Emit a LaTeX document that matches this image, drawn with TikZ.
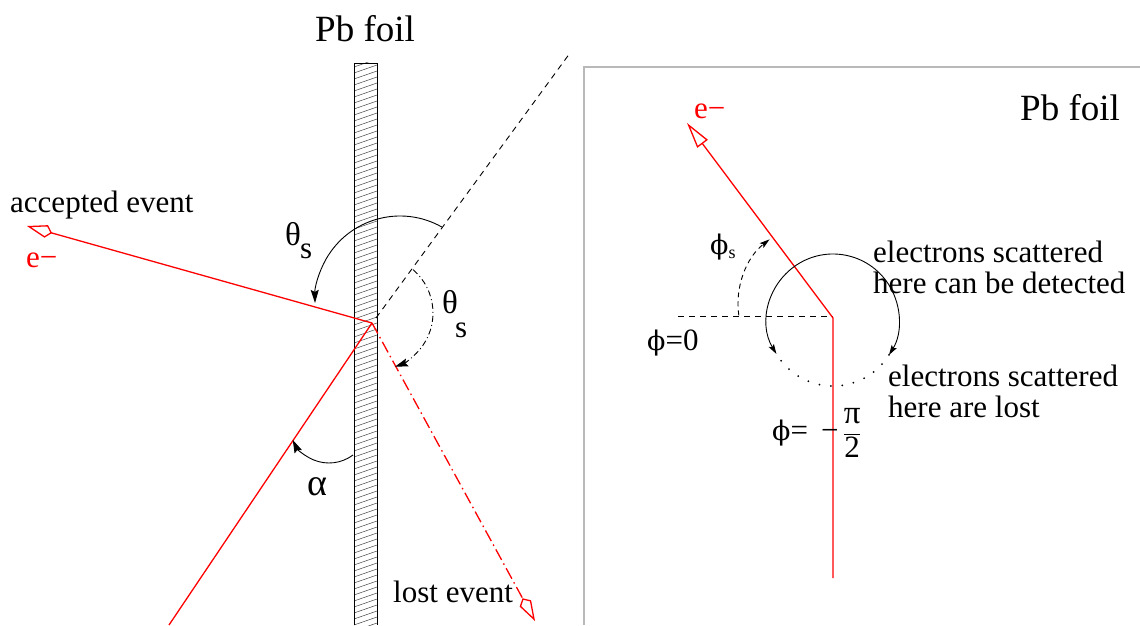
\documentclass[tikz,border=0pt]{standalone}
\usepackage{fontspec}
\setmainfont{Liberation Serif}
\newfontfamily\phifont{DejaVu Serif}
\newcommand{\myphi}{{\phifont\fontsize{27}{27}\selectfont ϕ}}
\usetikzlibrary{arrows.meta}
\begin{document}
\begin{tikzpicture}[x=1pt,y=1pt,
  txt/.style={inner sep=0pt, anchor=base west, font=\fontsize{31}{31}\selectfont},
  bigtxt/.style={inner sep=0pt, anchor=base west, font=\fontsize{37}{37}\selectfont},
  ray/.style={red, line width=1.3pt},
  thinline/.style={black, line width=0.9pt},
  bigtip/.style={-{Stealth[length=13pt,width=8pt,inset=2pt]}},
  kitetip/.style={-{Kite[open,length=26pt,width=13pt,inset=6pt]}},
  tritip/.style={-{Triangle[open,length=26pt,width=13pt]}},
  frameline/.style={gray!55, line width=1.3pt}
]
\useasboundingbox (0,0) rectangle (1140,625);

% ---------------- left panel ----------------
% foil
\begin{scope}
  \clip (354,0) rectangle (377,562);
  \foreach \yy in {-12,-6,...,570} \draw[black!75, line width=0.5pt] (354,\yy) -- (377,\yy+8);
\end{scope}
\draw[black, line width=0.9pt] (354,0) -- (354,562) -- (377,562) -- (377,0);
\node[bigtxt] (foilL) at (315,583) {Pb foil};

\coordinate (I) at (372,302);
\coordinate (S) at (169,0);
\coordinate (Acc) at (27,399);
\coordinate (Lost) at (535,4);
\coordinate (D0) at (376,307);
\coordinate (D1) at (570,572);

\draw[thinline, dash pattern=on 6pt off 5pt] (D0) -- (D1);
\draw[ray] (S) -- (I);
\draw[ray, kitetip] (I) -- (Acc);
\draw[ray, kitetip, dash pattern=on 12pt off 4pt on 1.5pt off 4pt] (I) -- (Lost);

% angle arcs
\coordinate (Q1) at (400,324);
\coordinate (Q2) at (376,312);
\coordinate (Q3) at (329,202);
\draw[thinline, bigtip] ([shift={(60.4:85)}]Q1) arc[start angle=60.4, end angle=181.3, radius=85];
\draw[thinline, bigtip, dash pattern=on 6pt off 3pt on 1pt off 3pt] ([shift={(49.3:57)}]Q2) arc[start angle=49.3, end angle=-70.6, radius=57];
\draw[thinline, bigtip] ([shift={(-53:40)}]Q3) arc[start angle=-53, end angle=-155, radius=40];

% labels
\node[txt] (acc) at (10,413) {accepted event};
\node[txt, text=red] (eL) at (26,358) {e−};
\node[txt, font=\fontsize{33}{33}\selectfont] (th1) at (285,380) {θ};
\node[txt] (s1) at (300,367) {s};
\node[txt, font=\fontsize{33}{33}\selectfont] (th2) at (442,312) {θ};
\node[txt] (s2) at (455,288) {s};
\node[txt, font=\fontsize{38}{38}\selectfont] (al) at (307,130) {α};
\node[txt] (lost) at (393,23) {lost event};

% ---------------- right panel ----------------
\draw[frameline] (584,0) -- (584,558) -- (1140,558);
\node[bigtxt] (foilR) at (1020,504) {Pb foil};
\node[txt, text=red] (eR) at (694,506) {e−};

\coordinate (C) at (833,307);
\coordinate (B) at (833,47);
\coordinate (T) at (687,502);
\coordinate (H0) at (678,309);
\coordinate (H1) at (833,309);

\draw[thinline, dash pattern=on 6pt off 5pt] (H0) -- (H1);
\draw[ray, tritip] (B) -- (C) -- (T);

\coordinate (O) at (833,305);
\draw[thinline, {Stealth[length=10pt,width=6pt,inset=2pt]}-{Stealth[length=10pt,width=6pt,inset=2pt]}] ([shift={(211:66)}]O) arc[start angle=211, end angle=-32, radius=66];
\draw[black, line width=2pt, line cap=round, dash pattern=on 0pt off 11.5pt] ([shift={(-32:66)}]O) arc[start angle=-32, end angle=-149, radius=66];

\coordinate (P) at (820,321);
\draw[thinline, dash pattern=on 5pt off 4pt, -{Stealth[length=10pt,width=6pt,inset=2pt]}] ([shift={(188:82)}]P) arc[start angle=188, end angle=128, radius=82];

\node[txt] (phis) at (710,371) {\myphi\raisebox{-4pt}{\fontsize{18}{18}\selectfont s}};
\node[txt] (phi0) at (647,275) {\myphi=0};
\node[txt] (phim) at (772,185) {\myphi=\kern13pt−\kern4pt$\displaystyle\frac{\hbox{\fontsize{33}{33}\selectfont π}}{\hbox{2}}$};

\node[txt] (det1) at (873,363) {electrons scattered};
\node[txt] (det2) at (873,332) {here can be detected};
\node[txt] (lost1) at (888,239) {electrons scattered};
\node[txt] (lost2) at (888,208) {here are lost};
\end{tikzpicture}
\end{document}
